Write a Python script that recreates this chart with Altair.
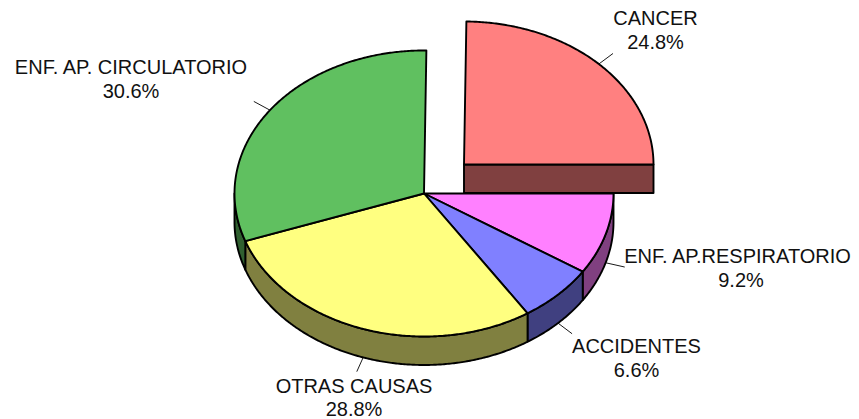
import math
import altair as alt

# Chart values
causes = ["CANCER", "ENF. AP.RESPIRATORIO", "ACCIDENTES", "OTRAS CAUSAS", "ENF. AP. CIRCULATORIO"]
shares = [24.8, 9.2, 6.6, 28.8, 30.6]
top_colors = ["#FF8080", "#FF80FF", "#8080FF", "#FFFF80", "#60C060"]
side_colors = ["#804040", "#804080", "#404080", "#808040", "#306030"]

# Layout of the tilted pie (page pixels; page margin is removed below)
CX, CY, RX, RY, DEPTH = 424.0, 193.5, 189.5, 143.0, 28.5
START = 0.72
EXPLODE = {"CANCER": (40.0, -29.0)}
LABEL_AT = {
    "CANCER": (655.5, 25, 655.5, 49),
    "ENF. AP.RESPIRATORIO": (737.5, 263, 741, 287),
    "ACCIDENTES": (636.5, 353, 636.5, 377),
    "OTRAS CAUSAS": (354, 393, 354, 416),
    "ENF. AP. CIRCULATORIO": (131, 74, 131, 98),
}
M = 8


def pt(a, cx, cy, k=1.0, dz=0.0):
    r = math.radians(a)
    return [cx + RX * k * math.sin(r) - M, cy - RY * k * math.cos(r) + dz - M]


def arc(a0, a1, cx, cy, dz=0.0):
    n = max(2, int(abs(a1 - a0) * 2))
    return [pt(a0 + (a1 - a0) * i / n, cx, cy, 1.0, dz) for i in range(n + 1)]


def feature(kind, coords, fill="none"):
    return {"type": "Feature", "properties": {"fill": fill},
            "geometry": {"type": kind, "coordinates": coords}}


walls, tops, leaders, texts = [], [], [], []
a = START
for cause, share, top, side in zip(causes, shares, top_colors, side_colors):
    a0, a1 = a, a + share * 3.6
    a = a1
    dx, dy = EXPLODE.get(cause, (0.0, 0.0))
    cx, cy = CX + dx, CY + dy
    centre = [cx - M, cy - M]
    # front wall, only where the rim faces the viewer
    f0, f1 = max(a0, 90.0), min(a1, 270.0)
    if f1 > f0:
        upper = arc(f0, f1, cx, cy)
        lower = arc(f1, f0, cx, cy, DEPTH)
        ring = upper + lower
        walls.append(feature("Polygon", [ring + [ring[0]]], side))
    if cause in EXPLODE:
        e = pt(a1, cx, cy)
        ring = [centre, e, [e[0], e[1] + DEPTH], [centre[0], centre[1] + DEPTH], centre]
        walls.append(feature("Polygon", [ring], side))
    ring = [centre] + arc(a0, a1, cx, cy) + [centre]
    tops.append(feature("Polygon", [ring], top))
    # leader from the visible rim at the slice's mid angle
    mid = (a0 + a1) / 2
    dz = DEPTH if 90 < mid < 270 else 0.0
    leaders.append(feature("LineString", [pt(mid, cx, cy, 1.0, dz), pt(mid, cx, cy, 1.105, dz)]))
    x1, y1, x2, y2 = LABEL_AT[cause]
    texts.append({"t": cause, "lon": x1 - M, "lat": y1 - M})
    texts.append({"t": f"{share:.1f}%", "lon": x2 - M, "lat": y2 - M})

PROJ = dict(type="identity", scale=1, translate=[0, 0])

leader_layer = alt.Chart(alt.Data(values=leaders)).mark_geoshape(
    filled=False, stroke="#000000", strokeWidth=0.9
).project(**PROJ)

wall_layer = alt.Chart(alt.Data(values=walls)).mark_geoshape(
    stroke="#000000", strokeWidth=1.9, strokeJoin="round"
).encode(fill=alt.Fill("properties.fill:N", scale=None)).project(**PROJ)

top_layer = alt.Chart(alt.Data(values=tops)).mark_geoshape(
    stroke="#000000", strokeWidth=1.9, strokeJoin="round"
).encode(fill=alt.Fill("properties.fill:N", scale=None)).project(**PROJ)

text_layer = alt.Chart(alt.Data(values=texts)).mark_text(
    font="Liberation Sans", fontSize=20, color="#111111", align="center", baseline="alphabetic"
).encode(longitude="lon:Q", latitude="lat:Q", text="t:N").project(**PROJ)

chart = alt.layer(leader_layer, wall_layer, top_layer, text_layer).properties(
    width=843, height=411, padding=0, autosize=alt.AutoSizeParams(type="none"), background="#FFFFFF"
).configure_view(stroke=None)

chart.save("out.html", embed_options={"renderer": "svg", "actions": False})
